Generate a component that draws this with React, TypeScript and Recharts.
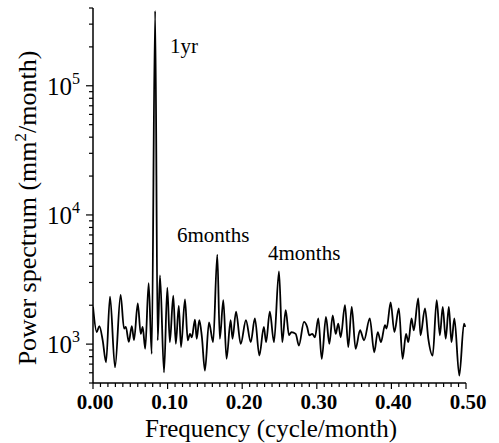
import React from 'react';
import { LineChart, Line, XAxis, YAxis } from 'recharts';

// frequency (cycle/month) and power (mm^2/month) at peaks and troughs
const FREQ = [
  0, 0.005, 0.0085, 0.013, 0.0175, 0.0228, 0.0295, 0.037, 0.0416, 0.044,
  0.048, 0.052, 0.055, 0.06, 0.064, 0.0666, 0.07, 0.0746, 0.0787, 0.0833,
  0.0867, 0.0898, 0.0952, 0.0996, 0.103, 0.1076, 0.111, 0.115, 0.118, 0.1233,
  0.127, 0.13, 0.1325, 0.1367, 0.139, 0.1425, 0.146, 0.15, 0.1555, 0.161,
  0.1666, 0.17, 0.1747, 0.179, 0.1845, 0.187, 0.1917, 0.198, 0.205, 0.2114,
  0.217, 0.223, 0.229, 0.232, 0.237, 0.2426, 0.2493, 0.2537, 0.2583, 0.2627,
  0.266, 0.2717, 0.276, 0.2828, 0.287, 0.29, 0.294, 0.2975, 0.302, 0.3066,
  0.3123, 0.3168, 0.3213, 0.3253, 0.3288, 0.332, 0.3378, 0.3422, 0.3468, 0.352,
  0.358, 0.3633, 0.371, 0.377, 0.3817, 0.386, 0.3914, 0.3936, 0.399, 0.404,
  0.41, 0.415, 0.4196, 0.4227, 0.427, 0.43, 0.436, 0.439, 0.445, 0.4495,
  0.4553, 0.4607, 0.465, 0.4688, 0.4728, 0.477, 0.4805, 0.4844, 0.491, 0.4973,
  0.499,
];

const POWER = [
  1950, 1240, 1380, 1070, 723, 2330, 661, 2400, 1320, 1360,
  1040, 1380, 1075, 2065, 1200, 1360, 920, 2960, 840, 380000,
  1070, 3400, 605, 2740, 1035, 2370, 1005, 1980, 950, 2220,
  1070, 1200, 1130, 1550, 1100, 1530, 1130, 623, 1470, 1035,
  4930, 1100, 2190, 770, 1530, 1100, 1780, 1005, 1530, 1035,
  1580, 815, 1360, 1035, 1780, 1035, 3650, 1035, 1830, 1170,
  1240, 1200, 975, 1485, 1360, 1170, 1200, 1130, 1580, 770,
  1625, 1005, 1670, 1200, 1440, 1130, 2000, 950, 1945, 920,
  1280, 1070, 1580, 865, 1240, 1035, 1400, 1320, 2100, 1240,
  1890, 770, 1200, 1035, 1580, 1280, 2260, 1170, 1890, 1100,
  815, 2190, 1170, 1945, 1100, 1945, 1035, 1580, 570, 1440,
  1360,
];

const X_TICKS = Array.from({ length: 51 }, (_, i) => i / 100);
const Y_TICKS = [
  500, 600, 700, 800, 900,
  1000, 2000, 3000, 4000, 5000, 6000, 7000, 8000, 9000,
  10000, 20000, 30000, 40000, 50000, 60000, 70000, 80000, 90000,
  100000, 200000, 300000, 400000,
];
const Y_MAJOR = [1000, 10000, 100000];

const ANNOTATIONS = [
  { text: '1yr', x: 170, y: 53 },
  { text: '6months', x: 177, y: 242 },
  { text: '4months', x: 268, y: 260 },
];

const FONT = "'Liberation Serif', 'Times New Roman', serif";

const data = FREQ.map((f, i) => ({ f, p: POWER[i] }));

function XTick(props: any) {
  const { x, y, payload } = props;
  const i = Math.round(payload.value * 100);
  const major = i % 10 === 0;
  return (
    <g>
      <line x1={x} x2={x} y1={y} y2={y + (major ? 6 : 4)} stroke="#000" strokeWidth={1.2} />
      {major && (
        <text
          x={x + 2}
          y={y + 26}
          textAnchor="middle"
          fill="#000"
          style={{ fontFamily: FONT, fontSize: 21, fontWeight: 'bold' }}
        >
          {payload.value.toFixed(2)}
        </text>
      )}
    </g>
  );
}

function YTick(props: any) {
  const { x, y, payload } = props;
  const major = Y_MAJOR.includes(payload.value);
  return (
    <g>
      <line x1={x - (major ? 7 : 4)} x2={x} y1={y} y2={y} stroke="#000" strokeWidth={1.2} />
      {major && (
        <text x={x - 13} y={y + 9} textAnchor="end" fill="#000" style={{ fontFamily: FONT, fontSize: 25 }}>
          10
          <tspan dy={-11} style={{ fontSize: 16 }}>{Math.round(Math.log10(payload.value))}</tspan>
        </text>
      )}
    </g>
  );
}

export default function App() {
  return (
    <div style={{ position: 'absolute', left: 0, top: 0, width: 499, height: 443, background: '#fff' }}>
      <LineChart width={499} height={443} data={data} margin={{ top: 8, right: 33, bottom: 0, left: 0 }}>
        <XAxis
          type="number"
          dataKey="f"
          domain={[0, 0.5]}
          ticks={X_TICKS}
          interval={0}
          allowDataOverflow
          height={60}
          tickSize={0}
          tickMargin={0}
          tickLine={false}
          axisLine={{ stroke: '#000', strokeWidth: 1.5 }}
          tick={<XTick />}
        />
        <YAxis
          type="number"
          scale="log"
          domain={[500, 400000]}
          ticks={Y_TICKS}
          interval={0}
          allowDataOverflow
          width={93}
          tickSize={0}
          tickMargin={0}
          tickLine={false}
          axisLine={{ stroke: '#000', strokeWidth: 1.5 }}
          tick={<YTick />}
        />
        <Line
          type="monotone"
          dataKey="p"
          stroke="#000"
          strokeWidth={1.8}
          dot={false}
          isAnimationActive={false}
        />
      </LineChart>
      <svg
        width={499}
        height={443}
        style={{ position: 'absolute', left: 0, top: 0, pointerEvents: 'none' }}
      >
        {ANNOTATIONS.map((a) => (
          <text key={a.text} x={a.x} y={a.y} fill="#000" style={{ fontFamily: FONT, fontSize: 21 }}>
            {a.text}
          </text>
        ))}
        <text x={271} y={437} textAnchor="middle" fill="#000" style={{ fontFamily: FONT, fontSize: 25 }}>
          Frequency (cycle/month)
        </text>
        <text
          transform="translate(36, 208) rotate(-90)"
          textAnchor="middle"
          fill="#000"
          style={{ fontFamily: FONT, fontSize: 26 }}
        >
          Power spectrum (mm
          <tspan dy={-10} style={{ fontSize: 17 }}>2</tspan>
          <tspan dy={10}>/month)</tspan>
        </text>
      </svg>
    </div>
  );
}
